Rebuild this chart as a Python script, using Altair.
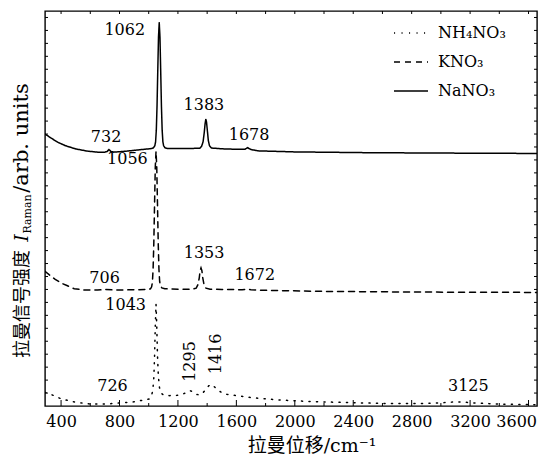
import altair as alt
import pandas as pd

# ---- data ----
SERIES = ["NH₄NO₃", "KNO₃", "NaNO₃"]

NA_X = [290, 330, 380, 430, 500, 580, 650, 700, 715, 728,
        742, 760, 850, 950, 1020, 1032, 1042, 1047, 1052, 1057,
        1062, 1067, 1072, 1077, 1082, 1087, 1092, 1097, 1102, 1112,
        1130, 1250, 1350, 1362, 1372, 1380, 1386, 1391, 1396, 1402,
        1408, 1416, 1430, 1500, 1600, 1660, 1670, 1678, 1686, 1700,
        1750, 2000, 2500, 3000, 3658]
NA_Y = [21.0, 20.7, 20.35, 20.1, 19.85, 19.68, 19.6, 19.6, 19.65, 19.8,
        19.65, 19.6, 19.68, 19.8, 19.88, 19.93, 20.1, 20.4, 21.3, 23.2,
        25.9, 28.5, 29.62, 28.5, 25.9, 23.2, 21.3, 20.4, 20.1, 19.93,
        19.88, 19.88, 19.9, 20.05, 20.4, 21.1, 21.8, 22.15, 21.9, 21.2,
        20.5, 20.1, 19.92, 19.86, 19.82, 19.83, 19.9, 19.95, 19.88, 19.8,
        19.7, 19.62, 19.56, 19.53, 19.5]

K_X = [290, 320, 360, 400, 440, 490, 560, 650, 706, 760,
       900, 1000, 1012, 1020, 1025, 1030, 1035, 1040, 1045, 1050,
       1055, 1060, 1065, 1070, 1075, 1080, 1090, 1110, 1200, 1300,
       1325, 1338, 1346, 1352, 1358, 1364, 1370, 1378, 1392, 1420,
       1500, 1640, 1672, 1700, 1800, 2200, 2800, 3658]
K_Y = [10.4, 10.12, 9.78, 9.5, 9.3, 9.05, 8.96, 8.95, 9.0, 8.96,
       8.97, 9.0, 9.05, 9.2, 9.53, 10.56, 12.62, 15.61, 18.46, 19.66,
       18.46, 15.61, 12.62, 10.56, 9.6, 9.3, 9.12, 9.05, 9.02, 9.02,
       9.1, 9.4, 9.9, 10.45, 10.66, 10.45, 9.9, 9.4, 9.1, 9.02,
       9.0, 8.98, 9.02, 8.98, 8.93, 8.85, 8.8, 8.77]

NH_X = [290, 338, 403, 487, 560, 607, 704, 760, 800, 896,
        1004, 1018, 1028, 1035, 1040, 1045, 1050, 1055, 1060, 1066,
        1074, 1085, 1100, 1140, 1190, 1230, 1260, 1281, 1300, 1320,
        1345, 1365, 1390, 1410, 1430, 1450, 1475, 1520, 1600, 1700,
        1800, 1900, 2100, 2400, 2650, 2850, 2980, 3060, 3100, 3150,
        3250, 3400, 3550, 3658]
NH_Y = [1.05, 0.86, 0.54, 0.32, 0.2, 0.15, 0.15, 0.2, 0.23, 0.32,
        0.54, 0.75, 1.2, 2.2, 3.8, 6.2, 7.86, 6.2, 3.9, 2.3,
        1.4, 1.0, 0.85, 0.8, 0.82, 0.9, 1.05, 1.19, 1.1, 0.92,
        0.86, 0.95, 1.25, 1.55, 1.67, 1.48, 1.2, 0.92, 0.8, 0.65,
        0.55, 0.46, 0.35, 0.25, 0.19, 0.19, 0.23, 0.29, 0.32, 0.3,
        0.22, 0.15, 0.12, 0.1]

ANN_TEXT = ["1062", "732", "1383", "1678", "1056", "706", "1353", "1672",
            "1043", "726", "1295", "1416", "3125"]
ANN_X = [836, 708, 1378, 1687, 854, 698, 1379, 1726, 842, 752, 1281, 1459, 3188]
ANN_Y = [29.0, 20.74, 23.23, 20.93, 19.06, 9.85, 11.83, 10.12, 7.82, 1.54, 3.44, 4.02, 1.54]
ANN_ANGLE = [0, 0, 0, 0, 0, 0, 0, 0, 0, 0, 270, 270, 0]

X_MAJOR = [400, 800, 1200, 1600, 2000, 2400, 2800, 3200, 3600]
X_MINOR = [600, 1000, 1400, 1800, 2200, 2600, 3000, 3400]
X_TOP = [400, 600, 800, 1000, 1200, 1400, 1600, 1800, 2000, 2200, 2400,
         2600, 2800, 3000, 3200, 3400, 3600]
Y_TICKS = [1, 2, 3, 4, 5, 6, 7, 8, 9, 10, 11, 12, 13, 14, 15, 16, 17, 18,
           19, 20, 21, 22, 23, 24, 25, 26, 27, 28, 29, 30]

# ---- build ----
W, H = 492, 395
SERIF = "DejaVu Serif"
CJK = "Noto Sans CJK SC"

xs = alt.Scale(domain=[290, 3658], nice=False, zero=False)
ys = alt.Scale(domain=[0, 30.5], nice=False, zero=False)
AX = alt.Axis(values=X_MAJOR, title=None, ticks=False, domain=False,
              grid=False, labelFont=SERIF, labelFontSize=16,
              labelColor="black", labelPadding=7, labelFlush=10,
              labelFlushOffset=8, format="d")

spec = pd.concat([
    pd.DataFrame({"series": SERIES[0], "wn": NH_X, "I": NH_Y}),
    pd.DataFrame({"series": SERIES[1], "wn": K_X, "I": K_Y}),
    pd.DataFrame({"series": SERIES[2], "wn": NA_X, "I": NA_Y}),
])

lines = alt.Chart(spec).mark_line(
    color="black", strokeWidth=1.5, strokeCap="round", clip=True
).encode(
    x=alt.X("wn:Q", scale=xs, axis=AX),
    y=alt.Y("I:Q", scale=ys, axis=None),
    strokeDash=alt.StrokeDash(
        "series:N",
        scale=alt.Scale(domain=SERIES, range=[[1.1, 6.4], [6, 5], [1, 0]]),
        legend=alt.Legend(
            title=None, orient="none", legendX=348, legendY=4,
            symbolType="stroke", symbolSize=1156, symbolStrokeWidth=1.5,
            symbolStrokeColor="black", labelFont=SERIF, labelFontSize=16,
            labelColor="black", labelOffset=9, rowPadding=3, padding=0),
    ),
)

ann = alt.Chart(pd.DataFrame({
    "label": ANN_TEXT, "x": ANN_X, "y": ANN_Y, "angle": ANN_ANGLE
})).mark_text(font=SERIF, fontSize=16, color="black", align="center",
              baseline="middle").encode(
    x=alt.X("x:Q", scale=xs, axis=AX),
    y=alt.Y("y:Q", scale=ys, axis=None),
    text="label:N",
    angle=alt.Angle("angle:Q", scale=None),
)

def vrule(vals, y_a, y_b):
    return alt.Chart(pd.DataFrame({"v": vals})).mark_rule(
        color="black", strokeWidth=1).encode(
        x=alt.X("v:Q", scale=xs, axis=AX),
        y=alt.value(y_a), y2=alt.value(y_b))

def hrule(vals, x_a, x_b):
    return alt.Chart(pd.DataFrame({"v": vals})).mark_rule(
        color="black", strokeWidth=1).encode(
        y=alt.Y("v:Q", scale=ys, axis=None),
        x=alt.value(x_a), x2=alt.value(x_b))

ticks = [
    vrule(X_MAJOR, H, H - 6),
    vrule(X_MINOR, H, H - 3),
    vrule(X_TOP, 0, 3),
    hrule(Y_TICKS, 0, 3),
    hrule(Y_TICKS, W - 3, W),
]

# axis titles as text
xtitle = alt.Chart().mark_text(
    text="拉曼位移/cm⁻¹", font=f"{SERIF}, {CJK}", fontSize=19, color="black",
    align="center", baseline="middle").encode(x=alt.value(267), y=alt.value(435))

yt_cn = alt.Chart().mark_text(
    text="拉曼信号强度", font=CJK, fontSize=18, color="black", angle=270,
    align="center", baseline="middle").encode(x=alt.value(-22), y=alt.value(293))
yt_i = alt.Chart().mark_text(
    text="I", font=SERIF, fontSize=19, fontStyle="italic", color="black",
    angle=270, align="center", baseline="middle").encode(x=alt.value(-23), y=alt.value(227))
yt_sub = alt.Chart().mark_text(
    text="Raman", font=SERIF, fontSize=11, color="black", angle=270,
    align="center", baseline="middle").encode(x=alt.value(-17), y=alt.value(203))
yt_rest = alt.Chart().mark_text(
    text="/arb. units", font=SERIF, fontSize=21, color="black", angle=270,
    align="center", baseline="middle").encode(x=alt.value(-23), y=alt.value(127))

chart = alt.layer(
    lines, ann, *ticks, xtitle, yt_cn, yt_i, yt_sub, yt_rest
).properties(
    width=W, height=H,
    padding={"left": 37, "top": 3, "right": 6, "bottom": 49},
    autosize=alt.AutoSizeParams(type="none"),
).configure_view(stroke="black", strokeWidth=1.4)

chart.save("out.html", embed_options={"renderer": "svg", "actions": False})
